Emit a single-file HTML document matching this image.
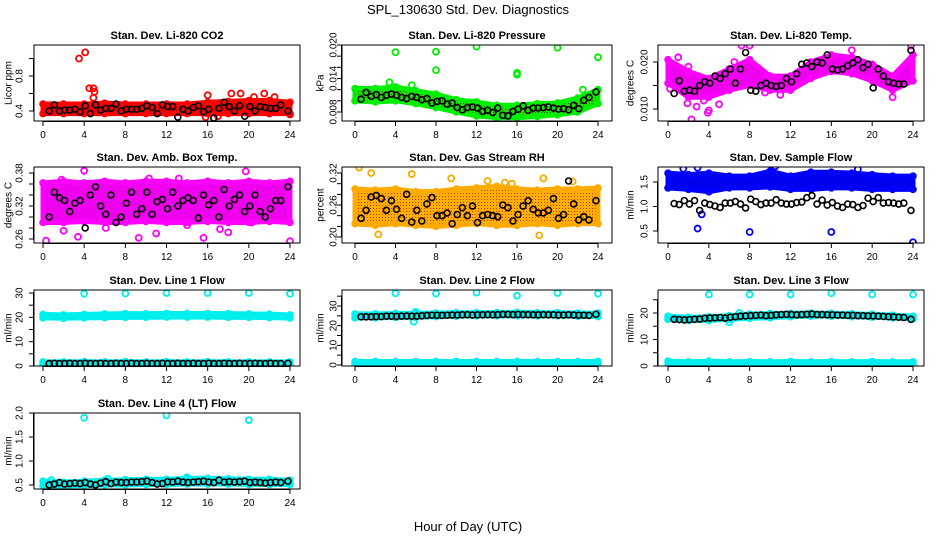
<!DOCTYPE html>
<html><head><meta charset="utf-8"><style>
html,body{margin:0;padding:0;background:#fff}
svg{display:block;font-family:"Liberation Sans",Arial,sans-serif}
</style></head><body>
<svg id="chart" width="936" height="540" viewBox="0 0 936 540" xmlns="http://www.w3.org/2000/svg">
<defs>
<pattern id="pat-rh" width="3" height="3" patternUnits="userSpaceOnUse"><rect width="3" height="3" fill="#ffb000"/><rect x="1" y="1" width="1" height="1" fill="#e03000"/></pattern>
<pattern id="pat-pres" width="3" height="3" patternUnits="userSpaceOnUse"><rect width="3" height="3" fill="#22dd00"/><rect x="1" y="1" width="1" height="1" fill="#106000"/></pattern>
</defs>
<text x="468" y="14" text-anchor="middle" font-size="13">SPL_130630  Std. Dev. Diagnostics</text>
<text x="468" y="531" text-anchor="middle" font-size="13">Hour of Day (UTC)</text>
</svg>
<script>
const blackHours=[0.6,1.1,1.6,2.1,2.6,3.1,3.6,4.1,4.6,5.1,5.6,6.1,6.6,7.1,7.6,8.1,8.6,9.1,9.6,10.1,10.6,11.1,11.6,12.1,12.6,13.1,13.6,14.1,14.6,15.1,15.6,16.1,16.6,17.1,17.6,18.1,18.6,19.1,19.6,20.1,20.6,21.1,21.6,22.1,22.6,23.1,23.8];
const bandHours=[0,2,4,6,8,10,12,14,16,18,20,22,24];
const xTicks=[0,4,8,12,16,20,24];

const co2Black=[0.40,0.47,0.40,0.41,0.41,0.42,0.39,0.46,0.37,0.47,0.41,0.43,0.43,0.48,0.40,0.42,0.42,0.42,0.43,0.46,0.44,0.37,0.47,0.45,0.45,0.33,0.42,0.40,0.44,0.46,0.39,0.42,0.32,0.43,0.50,0.45,0.40,0.46,0.34,0.45,0.40,0.45,0.44,0.43,0.43,0.47,0.40];
const co2Lo=[0.37,0.37,0.37,0.37,0.37,0.37,0.37,0.37,0.37,0.37,0.37,0.37,0.37];
const co2Hi=[0.48,0.48,0.48,0.49,0.48,0.48,0.48,0.48,0.50,0.51,0.52,0.52,0.50];
const co2OutX=[3.5,4.1,4.5,4.9,5.0,4.9,16.0,18.3,19.2,21.5,22.5,24.0,15.8,17.0,20.5];
const co2OutY=[1.00,1.07,0.66,0.66,0.62,0.55,0.58,0.60,0.60,0.60,0.56,0.36,0.33,0.34,0.56];

const presBlack=[0.0103,0.0115,0.0108,0.0111,0.0106,0.0110,0.0112,0.0110,0.0106,0.0104,0.0108,0.0106,0.0102,0.0104,0.0096,0.0099,0.0100,0.0094,0.0096,0.0088,0.0084,0.0088,0.0089,0.0087,0.0081,0.0083,0.0079,0.0087,0.0074,0.0073,0.0081,0.0085,0.0091,0.0083,0.0087,0.0087,0.0088,0.0089,0.0087,0.0085,0.0086,0.0084,0.0092,0.0086,0.0101,0.0106,0.0116];
const presLo=[0.0100,0.0098,0.0100,0.0095,0.0088,0.0080,0.0073,0.0070,0.0070,0.0072,0.0075,0.0080,0.0095];
const presHi=[0.0122,0.0122,0.0125,0.0118,0.0112,0.0102,0.0098,0.0092,0.0092,0.0095,0.0096,0.0105,0.0120];
const presOutX=[4.0,8.0,8.0,12.0,16.0,16.0,20.0,24.0,3.4,5.6,22.5];
const presOutY=[0.0187,0.0188,0.0155,0.0197,0.0150,0.0147,0.0195,0.0178,0.0133,0.0128,0.0120];

const tempBlack=[0.0133,0.0160,0.0138,0.0140,0.0138,0.0150,0.0158,0.0155,0.0170,0.0165,0.0175,0.0185,0.0155,0.0185,0.0220,0.0140,0.0138,0.0150,0.0155,0.0150,0.0148,0.0150,0.0165,0.0158,0.0175,0.0195,0.0198,0.0190,0.0200,0.0198,0.0215,0.0185,0.0183,0.0185,0.0192,0.0198,0.0205,0.0188,0.0195,0.0145,0.0185,0.0170,0.0158,0.0155,0.0153,0.0153,0.0225];
const tempLo=[0.0155,0.0125,0.0125,0.0140,0.0150,0.0140,0.0140,0.0165,0.0180,0.0175,0.0160,0.0140,0.0160];
const tempHi=[0.0205,0.0180,0.0165,0.0185,0.0205,0.0170,0.0170,0.0200,0.0215,0.0210,0.0195,0.0170,0.0215];
const tempOutX=[2.3,3.9,4.0,1.9,2.8,7.2,8.0,23.8,0.2,3.5,1.0,5.0,11.0,18.0,22.0,2.0,6.5,9.5];
const tempOutY=[0.0078,0.0092,0.0097,0.0112,0.0105,0.0235,0.0235,0.0235,0.0143,0.0118,0.0210,0.0110,0.0130,0.0225,0.0125,0.0190,0.0200,0.0135];

const ambBlack=[0.300,0.345,0.335,0.330,0.310,0.325,0.330,0.280,0.340,0.355,0.320,0.305,0.340,0.290,0.300,0.325,0.345,0.305,0.315,0.345,0.305,0.328,0.332,0.315,0.345,0.320,0.330,0.335,0.330,0.298,0.340,0.322,0.330,0.300,0.350,0.320,0.332,0.340,0.310,0.320,0.340,0.310,0.300,0.315,0.330,0.330,0.355];
const ambLo=[0.290,0.290,0.292,0.290,0.290,0.292,0.290,0.290,0.292,0.290,0.290,0.292,0.290];
const ambHi=[0.362,0.365,0.362,0.365,0.362,0.365,0.365,0.362,0.365,0.362,0.365,0.362,0.365];
const ambOutX=[0.3,0.4,3.4,4.0,9.3,11.0,2.0,6.1,17.2,19.7,24.0,10.3,15.6,18.0,20.3,13.2,1.8,14.0];
const ambOutY=[0.257,0.360,0.264,0.384,0.262,0.270,0.275,0.280,0.278,0.383,0.256,0.370,0.262,0.272,0.290,0.370,0.368,0.285];

const rhBlack=[0.235,0.250,0.275,0.278,0.272,0.250,0.268,0.252,0.235,0.280,0.228,0.250,0.230,0.262,0.274,0.240,0.240,0.245,0.225,0.242,0.255,0.240,0.258,0.227,0.240,0.242,0.240,0.238,0.260,0.255,0.230,0.242,0.258,0.268,0.252,0.245,0.245,0.250,0.272,0.235,0.242,0.305,0.262,0.232,0.238,0.232,0.268];
const rhLo=[0.225,0.222,0.225,0.222,0.220,0.222,0.225,0.222,0.222,0.225,0.222,0.225,0.225];
const rhHi=[0.290,0.288,0.290,0.285,0.285,0.290,0.292,0.295,0.290,0.288,0.290,0.290,0.292];
const rhOutX=[0.4,1.6,2.3,9.5,13.1,18.6,18.2,15.5,5.6,14.8,21.5];
const rhOutY=[0.330,0.320,0.205,0.310,0.305,0.310,0.203,0.300,0.318,0.302,0.304];

const flowBlack=[1.06,1.04,1.12,1.05,1.12,0.92,1.07,1.04,1.01,0.98,1.07,1.07,1.10,1.05,0.97,1.15,1.10,1.04,1.07,1.07,1.14,1.07,1.05,1.05,1.08,1.09,1.18,1.22,1.05,1.13,1.03,1.08,1.01,0.98,1.05,1.04,0.98,1.02,1.17,1.10,1.18,1.07,1.08,1.07,1.05,1.07,0.92];
const flowLo=[1.38,1.35,1.30,1.38,1.38,1.40,1.35,1.35,1.38,1.38,1.35,1.35,1.35];
const flowHi=[1.68,1.65,1.68,1.62,1.62,1.72,1.62,1.70,1.70,1.68,1.65,1.62,1.62];
const flowOutX=[2.9,8.0,16.0,24.0,3.3,1.5,10.5,2.9,18.6];
const flowOutY=[0.55,0.48,0.48,0.27,0.84,1.77,1.82,1.79,1.76];

const l1Black=[1.0,1.1,1.0,1.0,1.1,1.0,1.0,1.1,1.0,1.0,1.1,1.0,1.0,1.1,1.0,1.0,1.1,1.0,1.0,1.1,1.0,1.0,1.1,1.0,1.0,1.1,1.0,1.0,1.1,1.0,1.0,1.1,1.0,1.0,1.1,1.0,1.0,1.1,1.0,1.0,1.1,1.0,1.0,1.1,1.0,1.0,1.1];
const l1Lo=[19.8,19.6,19.8,19.9,20.0,20.0,20.1,20.1,20.1,20.0,20.0,19.9,19.7];
const l1Hi=[21.2,21.0,21.2,21.4,21.5,21.5,21.6,21.6,21.6,21.5,21.4,21.3,21.0];
const l1Lo2=[0.5,0.5,0.5,0.5,0.5,0.5,0.5,0.5,0.5,0.5,0.5,0.5,0.5];
const l1Hi2=[1.7,1.7,1.8,1.7,1.8,1.7,1.8,1.7,1.8,1.7,1.7,1.7,1.7];
const l1OutX=[4,8,12,16,20,24];
const l1OutY=[29.7,29.8,30.0,30.0,30.0,29.7];

const l2Black=[24.5,24.5,24.5,24.6,24.6,24.8,24.8,24.7,24.8,24.9,24.8,24.8,25.0,25.2,25.3,25.3,25.2,25.3,25.4,25.4,25.5,25.6,25.4,25.5,25.5,25.6,25.5,25.6,25.7,25.7,25.6,25.7,25.6,25.6,25.5,25.5,25.6,25.5,25.5,25.4,25.4,25.5,25.4,25.3,25.3,25.2,25.8];
const l2Lo=[24.0,24.0,24.2,24.2,24.6,24.8,25.0,25.0,25.0,25.0,25.0,24.8,24.6];
const l2Hi=[26.0,26.0,26.2,26.4,26.4,26.6,26.6,26.6,26.8,26.6,26.6,26.4,26.4];
const l2Lo2=[0.4,0.4,0.4,0.4,0.4,0.4,0.4,0.4,0.4,0.4,0.4,0.4,0.4];
const l2Hi2=[1.8,1.8,1.8,1.8,1.8,1.8,1.8,1.8,1.8,1.8,1.8,1.8,1.8];
const l2OutX=[4,8,12,16,20,24,6.0,5.8];
const l2OutY=[36.5,36.3,36.8,35.2,36.6,36.3,27.0,22.0];

const l3Black=[17.6,17.5,17.4,17.5,17.6,17.7,18.0,18.1,18.2,18.3,18.1,18.4,18.6,18.8,18.9,19.0,19.1,19.2,19.0,19.1,19.3,19.4,19.5,19.4,19.3,19.4,19.5,19.6,19.4,19.4,19.3,19.3,19.2,19.2,19.1,19.1,19.0,19.0,18.9,18.9,18.8,18.7,18.6,18.5,18.4,18.3,17.6];
const l3Lo=[17.6,17.2,17.2,17.6,18.0,18.2,18.6,18.8,18.8,18.6,18.4,18.2,17.8];
const l3Hi=[18.8,18.4,18.6,19.0,19.6,19.8,19.9,20.0,19.9,19.7,19.5,19.2,18.8];
const l3Lo2=[0.5,0.5,0.5,0.5,0.5,0.5,0.5,0.5,0.5,0.5,0.5,0.5,0.5];
const l3Hi2=[1.8,1.6,1.8,1.6,1.7,1.6,1.7,1.6,1.7,1.6,1.7,1.6,1.6];
const l3OutX=[4,8,12,16,20,24,6.0,7.0];
const l3OutY=[27.0,27.0,27.0,27.5,27.0,27.0,16.5,20.0];

const l4Black=[0.50,0.52,0.55,0.52,0.53,0.54,0.53,0.55,0.52,0.50,0.54,0.57,0.53,0.56,0.55,0.55,0.56,0.56,0.57,0.58,0.55,0.52,0.53,0.57,0.56,0.58,0.56,0.55,0.56,0.57,0.58,0.56,0.55,0.60,0.56,0.57,0.56,0.57,0.58,0.55,0.56,0.55,0.54,0.55,0.56,0.55,0.58];
const l4Lo=[0.48,0.48,0.49,0.50,0.50,0.51,0.51,0.52,0.52,0.52,0.51,0.51,0.51];
const l4Hi=[0.58,0.56,0.58,0.60,0.61,0.62,0.62,0.64,0.64,0.63,0.62,0.62,0.60];
const l4OutX=[4,12,20,0.8,14.0,6.3];
const l4OutY=[1.90,1.95,1.85,0.60,0.66,0.63];

const NS='http://www.w3.org/2000/svg';
const svg=document.getElementById('chart');
function mk(tag,attrs,parent){const e=document.createElementNS(NS,tag);for(const k in attrs)e.setAttribute(k,attrs[k]);(parent||svg).appendChild(e);return e;}

const cols=[{bx:34,bw:266,x0:43,x24:290,tl:19,al:8},{bx:342,bw:270,x0:355,x24:598,tl:333,al:320},{bx:658,bw:266,x0:668,x24:913,tl:644,al:630}];
const rows=[45,167,290,413];
const BH=76;

function panel(p){
  const c=cols[p.col], top=rows[p.row];
  const g=mk('g',{});
  
  
  const xs=h=>c.x0+(c.x24-c.x0)*h/24;
  const ys=v=>p.pA+(v-p.vA)*(p.pB-p.pA)/(p.vB-p.vA);
  const clip='clip-'+p.name;
  const cp=mk('clipPath',{id:clip},g);mk('rect',{x:c.bx,y:top,width:c.bw,height:BH},cp);
  const data=mk('g',{'clip-path':'url(#'+clip+')'},g);
  function band(lo,hi,nm){
    let pts=[];
    for(let i=0;i<bandHours.length;i++)pts.push(xs(bandHours[i])+','+ys(hi[i]));
    for(let i=bandHours.length-1;i>=0;i--)pts.push(xs(bandHours[i])+','+ys(lo[i]));
    const b=mk('polygon',{points:pts.join(' '),fill:p.fill,stroke:p.color,'stroke-width':5,'stroke-linejoin':'round'},data);
    
    
    for(let i=0;i<bandHours.length;i++){
      [lo[i],hi[i]].forEach(v=>{
        const ci=mk('circle',{cx:xs(bandHours[i]),cy:ys(v),r:3,fill:'none',stroke:p.color,'stroke-width':1.6},data);
        
        
      });
    }
  }
  band(p.lo,p.hi,'data-band');
  if(p.lo2)band(p.lo2,p.hi2,'data-band-lower');
  for(let i=0;i<p.ox.length;i++){
    const ci=mk('circle',{cx:xs(p.ox[i]),cy:ys(p.oy[i]),r:3,fill:'none',stroke:p.color,'stroke-width':1.8},data);
    
    
  }
  for(let i=0;i<Math.min(blackHours.length,p.black.length);i++){
    const ci=mk('circle',{cx:xs(blackHours[i]),cy:ys(p.black[i]),r:3,fill:'none',stroke:'#000','stroke-width':1.6},data);
    
    
  }
  const box=mk('rect',{x:c.bx,y:top,width:c.bw,height:BH,fill:'none',stroke:'#000','stroke-width':1},g);
  
  
  const t=mk('text',{x:c.bx+c.bw/2,y:top-6,'text-anchor':'middle','font-size':11,'font-weight':'bold'},g);
  t.textContent=p.title;
  
  
  const bot=top+BH;
  mk('line',{x1:c.x0,x2:c.x24,y1:bot+0.5,y2:bot+0.5,stroke:'#000'},g);
  xTicks.forEach(h=>{
    mk('line',{x1:xs(h),x2:xs(h),y1:bot,y2:bot+5,stroke:'#000'},g);
    const tx=mk('text',{x:xs(h),y:bot+17,'text-anchor':'middle','font-size':10},g);
    tx.textContent=h;
    
    
  });
  const yt=p.ticks.map(ys);
  mk('line',{x1:c.bx-0.5,x2:c.bx-0.5,y1:Math.min(...yt),y2:Math.max(...yt),stroke:'#000'},g);
  p.ticks.forEach(v=>mk('line',{x1:c.bx-5,x2:c.bx,y1:ys(v),y2:ys(v),stroke:'#000'},g));
  p.labels.forEach(v=>{
    const y=ys(v), x=c.tl;
    const tx=mk('text',{x:x,y:y,'text-anchor':'middle','font-size':10,transform:'rotate(-90 '+x+' '+y+')',dy:'0.35em'},g);
    tx.textContent=v.toFixed(p.dec);
    
    
  });
  const ay=top+BH/2;
  const at=mk('text',{x:c.al,y:ay,'text-anchor':'middle','font-size':10,transform:'rotate(-90 '+c.al+' '+ay+')',dy:'0.35em'},g);
  at.textContent=p.ylab;
  
  
}

panel({name:'panel-co2',col:0,row:0,title:'Stan. Dev. Li-820 CO2',ylab:'Licor ppm',vA:0.4,pA:111,vB:0.8,pB:76,ticks:[0.4,0.6,0.8,1.0],labels:[0.4,0.8],dec:1,color:'#ff0000',fill:'#ee0000',lo:co2Lo,hi:co2Hi,ox:co2OutX,oy:co2OutY,black:co2Black});
panel({name:'panel-pressure',col:1,row:0,title:'Stan. Dev. Li-820 Pressure',ylab:'kPa',vA:0.008,pA:112,vB:0.020,pB:45,ticks:[0.008,0.010,0.012,0.014,0.016,0.018,0.020],labels:[0.008,0.014,0.020],dec:3,color:'#00ee00',fill:'url(#pat-pres)',lo:presLo,hi:presHi,ox:presOutX,oy:presOutY,black:presBlack});
panel({name:'panel-temp',col:2,row:0,title:'Stan. Dev. Li-820 Temp.',ylab:'degrees C',vA:0.010,pA:109,vB:0.020,pB:62,ticks:[0.010,0.015,0.020],labels:[0.010,0.020],dec:3,color:'#ff00ff',fill:'#ee00ee',lo:tempLo,hi:tempHi,ox:tempOutX,oy:tempOutY,black:tempBlack});
panel({name:'panel-amb-box',col:0,row:1,title:'Stan. Dev. Amb. Box Temp.',ylab:'degrees C',vA:0.26,pA:239,vB:0.38,pB:173,ticks:[0.26,0.28,0.30,0.32,0.34,0.36,0.38],labels:[0.26,0.32,0.38],dec:2,color:'#ff00ff',fill:'#ee00ee',lo:ambLo,hi:ambHi,ox:ambOutX,oy:ambOutY,black:ambBlack});
panel({name:'panel-gas-rh',col:1,row:1,title:'Stan. Dev. Gas Stream RH',ylab:'percent',vA:0.20,pA:237,vB:0.32,pB:173,ticks:[0.20,0.22,0.24,0.26,0.28,0.30,0.32],labels:[0.20,0.26,0.32],dec:2,color:'#ffaa00',fill:'url(#pat-rh)',lo:rhLo,hi:rhHi,ox:rhOutX,oy:rhOutY,black:rhBlack});
panel({name:'panel-sample-flow',col:2,row:1,title:'Stan. Dev. Sample Flow',ylab:'ml/min',vA:0.5,pA:231,vB:1.5,pB:182,ticks:[0.5,1.0,1.5],labels:[0.5,1.0,1.5],dec:1,color:'#0000ff',fill:'#0000ee',lo:flowLo,hi:flowHi,ox:flowOutX,oy:flowOutY,black:flowBlack});
panel({name:'panel-line1',col:0,row:2,title:'Stan. Dev. Line 1 Flow',ylab:'ml/min',vA:0,pA:366,vB:30,pB:293,ticks:[0,5,10,15,20,25,30],labels:[0,10,20,30],dec:0,color:'#00eeee',fill:'#00eeee',lo:l1Lo,hi:l1Hi,lo2:l1Lo2,hi2:l1Hi2,ox:l1OutX,oy:l1OutY,black:l1Black});
panel({name:'panel-line2',col:1,row:2,title:'Stan. Dev. Line 2 Flow',ylab:'ml/min',vA:0,pA:365,vB:30,pB:306,ticks:[0,5,10,15,20,25,30,35],labels:[0,10,20,30],dec:0,color:'#00eeee',fill:'#00eeee',lo:l2Lo,hi:l2Hi,lo2:l2Lo2,hi2:l2Hi2,ox:l2OutX,oy:l2OutY,black:l2Black});
panel({name:'panel-line3',col:2,row:2,title:'Stan. Dev. Line 3 Flow',ylab:'ml/min',vA:0,pA:366,vB:20,pB:313,ticks:[0,5,10,15,20,25],labels:[0,10,20],dec:0,color:'#00eeee',fill:'#00eeee',lo:l3Lo,hi:l3Hi,lo2:l3Lo2,hi2:l3Hi2,ox:l3OutX,oy:l3OutY,black:l3Black});
panel({name:'panel-line4',col:0,row:3,title:'Stan. Dev. Line 4 (LT) Flow',ylab:'ml/min',vA:0.5,pA:485,vB:2.0,pB:413,ticks:[0.5,1.0,1.5,2.0],labels:[0.5,1.0,1.5,2.0],dec:1,color:'#00eeee',fill:'#00eeee',lo:l4Lo,hi:l4Hi,ox:l4OutX,oy:l4OutY,black:l4Black});
</script>
</body></html>
